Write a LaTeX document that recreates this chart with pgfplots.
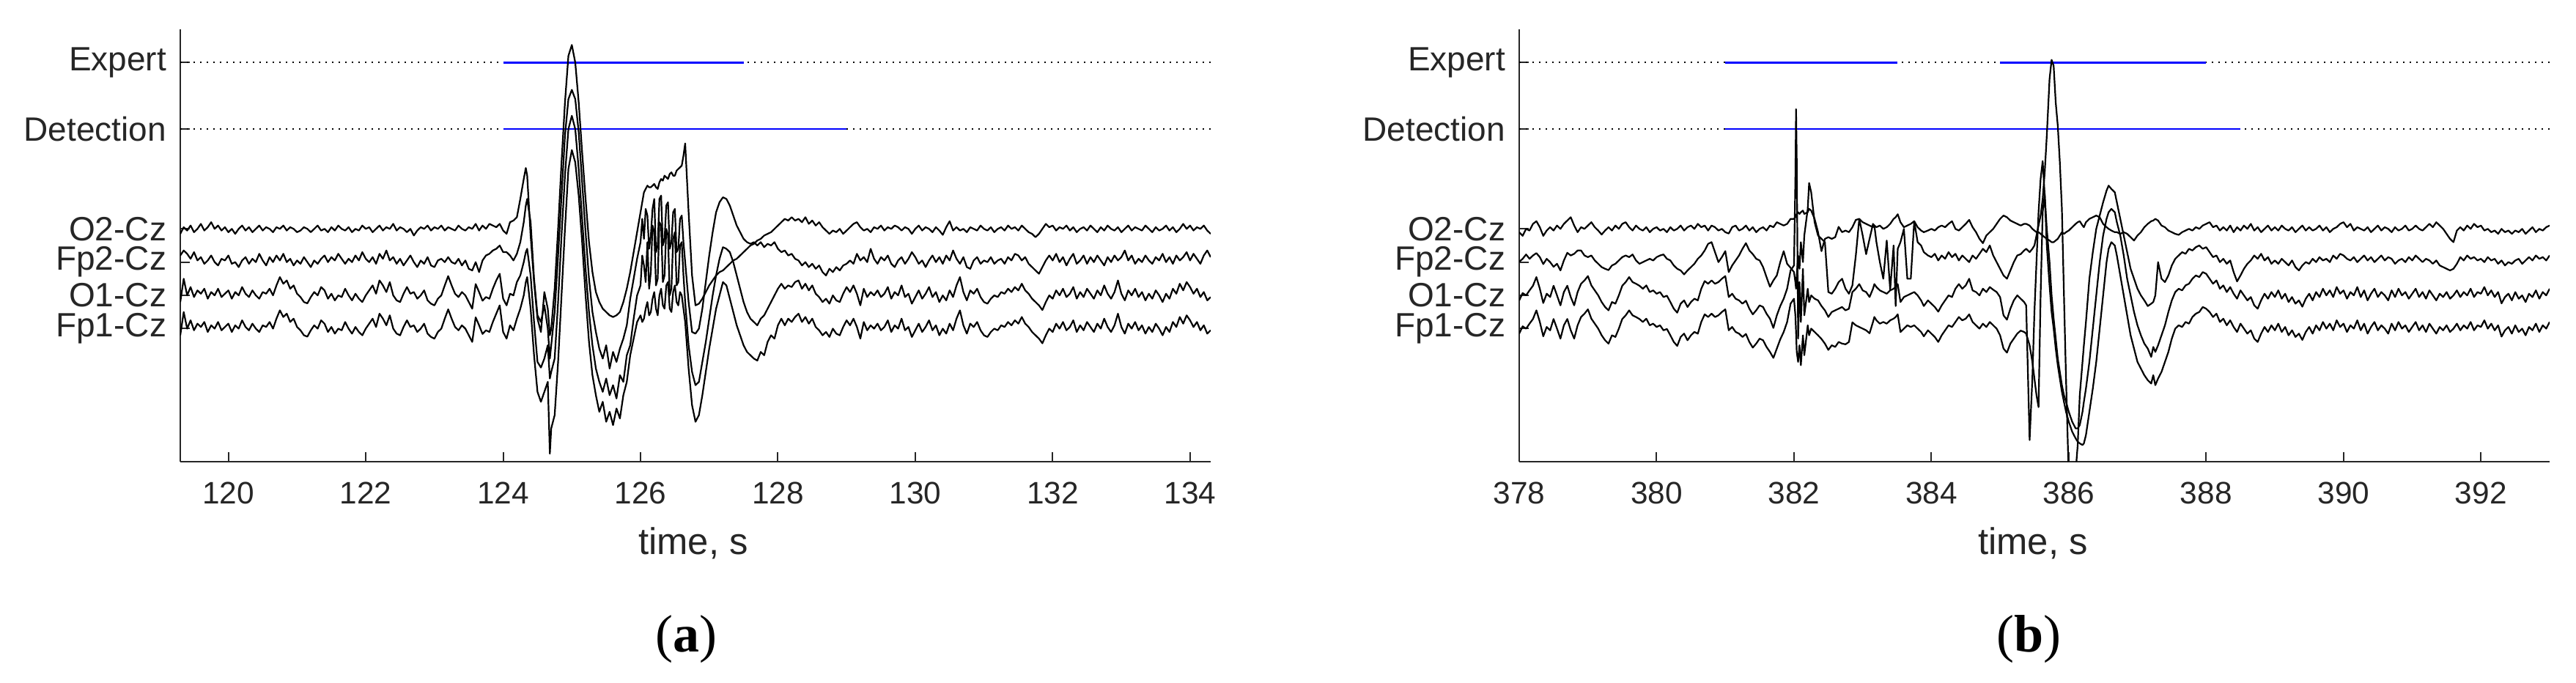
\documentclass[border=0pt]{standalone}
\usepackage{fontspec}
\setmainfont{Liberation Sans}
\newfontfamily\seriffont{Liberation Serif}
\usepackage{pgfplots}
\usepackage{pgfplotstable}
\pgfplotsset{compat=1.18}
\definecolor{axgray}{RGB}{38,38,38}

% panel (a): t, Fp1-Cz, O1-Cz, Fp2-Cz, O2-Cz (channel offsets 1,2,3,4)
\pgfplotstableread{
t fpa oa fpb ob
119.30 0.80 1.80 3.20 3.85
119.35 1.50 2.50 3.35 4.05
119.40 1.00 2.00 3.25 3.95
119.45 1.25 2.25 3.10 4.10
119.50 0.95 1.95 3.30 3.90
119.55 1.15 2.15 3.05 4.00
119.60 1.05 2.05 3.15 4.15
119.65 1.20 2.20 2.95 3.95
119.70 0.90 1.90 3.05 4.05
119.75 1.10 2.10 3.20 4.20
119.80 1.00 2.00 3.00 4.00
119.85 1.20 2.20 2.90 4.10
119.90 0.95 1.95 3.10 3.95
119.95 1.05 2.05 3.05 4.05
120.00 1.15 2.15 3.20 3.90
120.05 0.90 1.90 2.95 4.00
120.10 1.10 2.10 3.00 3.85
120.15 1.00 2.00 2.85 4.00
120.20 1.25 2.25 3.05 4.10
120.25 1.05 2.05 3.15 3.95
120.30 0.95 1.95 2.95 4.05
120.35 1.15 2.15 3.10 3.90
120.40 1.00 2.00 3.00 4.00
120.45 0.90 1.90 3.25 4.10
120.50 1.10 2.10 3.05 3.95
120.55 1.05 2.05 2.90 4.05
120.60 1.20 2.20 3.15 4.00
120.65 1.00 2.00 3.00 3.90
120.70 1.30 2.30 3.20 4.05
120.75 1.55 2.55 3.05 4.00
120.80 1.35 2.35 3.25 4.10
120.85 1.45 2.45 3.00 3.95
120.90 1.20 2.20 3.10 4.05
120.95 1.30 2.30 2.90 4.00
121.00 1.05 2.05 3.05 3.90
121.05 0.95 1.95 2.95 3.95
121.10 0.80 1.80 3.15 4.05
121.15 0.76 1.76 3.00 4.00
121.20 0.95 1.95 2.85 3.90
121.25 1.10 2.10 3.05 4.00
121.30 1.00 2.00 2.95 4.10
121.35 1.25 2.25 3.10 3.95
121.40 1.15 2.15 3.20 4.00
121.45 0.90 1.90 3.00 3.90
121.50 1.05 2.05 3.15 4.05
121.55 0.85 1.85 3.05 3.95
121.60 1.00 2.00 3.25 4.10
121.65 0.95 1.95 3.10 4.00
121.70 1.20 2.20 2.95 3.95
121.75 1.00 2.00 3.10 4.05
121.80 0.85 1.85 3.00 3.90
121.85 1.05 2.05 3.20 4.00
121.90 0.90 1.90 3.05 3.95
121.95 0.80 1.80 3.30 4.10
122.00 1.00 2.00 3.10 4.00
122.05 1.15 2.15 3.00 4.05
122.10 1.30 2.30 3.15 3.90
122.15 1.05 2.05 2.95 4.00
122.20 1.45 2.45 3.25 4.10
122.25 1.30 2.30 3.10 3.95
122.30 1.10 2.10 3.35 4.05
122.35 1.40 2.40 3.05 4.00
122.40 1.00 2.00 3.15 4.15
122.45 0.85 1.85 2.95 3.95
122.50 0.80 1.80 3.10 4.05
122.55 1.05 2.05 2.90 4.00
122.60 1.25 2.25 3.05 3.90
122.65 1.05 2.05 3.20 4.00
122.70 1.10 2.10 3.00 3.80
122.75 0.90 1.90 2.85 3.95
122.80 1.00 2.00 3.05 4.05
122.85 1.15 2.15 2.95 4.00
122.90 0.85 1.85 3.15 4.10
122.95 0.75 1.75 2.90 3.95
123.00 0.70 1.70 2.85 4.05
123.05 0.90 1.90 3.05 4.00
123.10 1.00 2.00 3.10 4.10
123.15 1.30 2.30 3.00 3.95
123.20 1.58 2.58 3.15 4.05
123.25 1.30 2.30 3.00 4.00
123.30 1.05 2.05 2.95 3.95
123.35 0.95 1.95 3.10 4.10
123.40 1.10 2.10 2.90 4.00
123.45 1.00 2.00 3.05 3.95
123.50 0.80 1.80 2.80 4.05
123.55 0.60 1.60 2.75 4.00
123.60 1.34 2.34 3.00 4.15
123.65 1.10 2.10 2.70 3.95
123.70 0.84 1.84 3.05 4.10
123.75 0.95 1.95 3.20 4.00
123.80 0.90 1.90 3.25 4.15
123.85 1.20 2.20 3.35 4.10
123.90 1.45 2.45 3.40 4.05
123.95 1.70 2.65 3.50 4.15
124.00 0.90 1.90 3.30 3.95
124.05 0.70 1.70 3.30 3.85
124.10 1.10 2.05 3.20 4.20
124.15 0.95 2.00 3.05 4.25
124.20 1.30 2.40 3.25 4.35
124.25 1.60 2.60 3.60 4.90
124.30 2.00 3.00 4.20 5.50
124.33 2.40 3.30 4.70 5.83
124.35 2.55 3.40 4.90 5.60
124.40 1.60 2.60 4.20 3.80
124.45 0.20 1.20 2.50 2.40
124.50 -0.90 0.00 1.40 1.30
124.55 -1.20 -0.17 1.20 0.90
124.60 -0.90 0.10 1.70 2.10
124.65 -0.60 0.50 1.00 1.60
124.68 -2.76 -0.50 0.10 0.80
124.70 -2.00 -0.30 0.50 1.00
124.75 -1.60 0.10 1.50 2.20
124.80 0.00 1.80 3.20 4.00
124.85 2.00 3.80 5.00 6.00
124.90 4.00 5.60 6.80 7.80
124.95 5.80 7.00 7.90 9.20
125.00 6.37 7.40 8.18 9.53
125.05 6.00 7.00 7.90 9.00
125.10 5.00 5.80 6.90 7.80
125.15 3.60 4.30 5.40 6.30
125.20 2.00 2.80 3.90 4.90
125.25 0.60 1.50 2.50 3.60
125.30 -0.40 0.50 1.50 2.70
125.35 -1.00 -0.20 0.90 2.10
125.40 -1.50 -0.60 0.40 1.80
125.45 -1.20 -0.90 0.10 1.60
125.50 -1.80 -0.50 0.50 1.50
125.55 -1.50 -1.00 -0.20 1.40
125.60 -1.90 -0.70 0.30 1.35
125.65 -1.40 -1.10 0.00 1.40
125.70 -1.70 -0.40 0.40 1.50
125.75 -1.00 -0.60 0.70 1.80
125.80 -0.60 0.20 1.10 2.20
125.85 0.20 0.50 1.90 2.70
125.90 0.70 1.30 2.50 3.30
125.95 1.20 2.00 3.10 3.90
126.000 1.40 2.30 3.60 4.50
126.025 1.20 3.20 4.30 4.80
126.050 1.30 2.90 3.70 5.10
126.075 1.60 2.40 4.60 5.20
126.100 1.80 3.60 4.40 5.30
126.125 1.40 2.20 3.40 5.25
126.150 1.50 2.70 3.80 5.25
126.175 1.90 4.10 4.60 5.30
126.200 2.10 3.90 4.90 5.35
126.225 1.60 2.30 3.30 5.25
126.250 1.40 2.50 3.50 5.20
126.275 2.00 4.20 4.90 5.40
126.300 2.20 4.10 5.00 5.50
126.325 1.70 2.40 3.50 5.45
126.350 1.60 2.60 3.70 5.60
126.375 2.30 4.00 4.70 5.55
126.400 2.40 3.80 4.80 5.50
126.425 1.60 2.00 3.40 5.65
126.450 1.50 2.20 3.60 5.70
126.475 2.10 3.70 4.50 5.60
126.500 2.30 3.90 4.60 5.60
126.525 1.80 2.30 3.30 5.75
126.550 1.70 2.40 3.40 5.80
126.575 2.10 3.50 4.30 5.85
126.600 2.00 3.60 4.40 5.90
126.625 1.60 2.60 3.60 6.20
126.650 1.20 1.80 3.00 6.57
126.70 -0.20 0.50 1.80 4.50
126.75 -1.30 -0.30 0.90 2.60
126.80 -1.80 -0.70 0.85 1.70
126.85 -1.60 -0.60 1.00 1.75
126.90 -1.00 0.00 1.60 1.90
126.95 -0.30 0.60 2.40 2.10
127.00 0.40 1.30 3.20 2.30
127.05 1.00 2.00 3.90 2.45
127.10 1.60 2.60 4.50 2.60
127.15 2.00 3.10 4.80 2.70
127.20 2.40 3.45 4.95 2.75
127.25 2.30 3.40 4.90 2.85
127.30 1.90 3.30 4.70 2.95
127.35 1.50 3.00 4.40 3.05
127.40 1.10 2.60 4.10 3.10
127.45 0.80 2.20 3.90 3.20
127.50 0.50 1.80 3.70 3.30
127.55 0.30 1.50 3.60 3.40
127.60 0.20 1.30 3.55 3.50
127.65 0.10 1.20 3.60 3.55
127.70 0.04 1.10 3.50 3.65
127.75 0.30 1.30 3.60 3.70
127.80 0.20 1.40 3.45 3.80
127.85 0.60 1.60 3.55 3.85
127.90 0.80 1.80 3.50 3.90
127.95 0.70 2.00 3.60 4.00
128.00 1.10 2.20 3.40 4.10
128.05 1.30 2.35 3.30 4.20
128.10 1.10 2.20 3.35 4.30
128.15 1.30 2.30 3.20 4.25
128.20 1.20 2.25 3.25 4.35
128.25 1.35 2.40 3.10 4.25
128.30 1.45 2.45 3.05 4.30
128.35 1.20 2.20 2.90 4.20
128.40 1.35 2.35 3.00 4.35
128.45 1.15 2.15 2.85 4.15
128.50 1.30 2.30 2.95 4.25
128.55 1.05 2.05 2.80 4.10
128.60 0.95 1.95 2.90 4.20
128.65 0.80 1.80 2.70 4.05
128.70 0.90 1.90 2.60 3.95
128.75 0.75 1.75 2.80 3.85
128.80 1.00 2.00 2.70 3.95
128.85 0.85 1.85 2.85 3.90
128.90 0.80 1.80 2.75 4.00
128.95 1.05 2.05 2.90 3.85
129.00 1.25 2.25 2.95 3.95
129.05 1.10 2.10 3.05 4.05
129.10 1.30 2.30 2.95 4.15
129.15 1.05 2.05 3.25 4.20
129.20 0.70 1.70 3.05 4.05
129.25 1.20 2.20 3.15 3.95
129.30 0.95 1.95 3.00 4.00
129.35 1.10 2.10 3.40 3.90
129.40 1.00 2.00 3.10 4.05
129.45 1.15 2.15 2.95 4.00
129.50 0.95 1.95 3.15 4.10
129.55 1.05 2.05 3.05 3.95
129.60 1.25 2.25 3.20 4.05
129.65 0.90 1.90 2.95 4.00
129.70 1.10 2.10 2.85 4.10
129.75 1.00 2.00 3.05 4.05
129.80 1.30 2.30 3.15 3.95
129.85 0.95 1.95 2.95 4.05
129.90 1.05 2.05 3.10 4.00
129.95 0.75 1.75 3.30 3.85
130.00 0.95 1.95 3.15 4.00
130.05 1.15 2.15 2.95 4.10
130.10 0.90 1.90 3.05 3.95
130.15 1.05 2.05 2.85 4.05
130.20 1.25 2.25 3.05 4.00
130.25 0.95 1.95 3.20 3.90
130.30 1.10 2.10 3.00 4.05
130.35 0.80 1.80 3.15 3.95
130.40 1.00 2.00 2.95 3.82
130.45 0.85 1.85 3.20 4.05
130.50 1.15 2.15 3.05 4.23
130.55 0.95 1.95 3.35 3.95
130.60 1.30 2.30 3.10 4.05
130.65 1.55 2.55 2.95 3.95
130.70 1.10 2.10 3.15 4.00
130.75 0.85 1.85 2.85 3.90
130.80 1.15 2.15 2.80 4.05
130.85 1.05 2.05 3.05 4.00
130.90 1.20 2.20 3.15 3.95
130.95 0.95 1.95 2.95 4.10
131.00 0.80 1.80 3.05 4.00
131.05 0.75 1.75 3.00 3.95
131.10 0.90 1.90 3.15 4.05
131.15 1.00 2.00 2.95 3.90
131.20 0.95 1.95 3.05 4.00
131.25 1.10 2.10 3.10 4.05
131.30 1.05 2.05 2.95 3.95
131.35 1.20 2.20 3.15 4.10
131.40 1.10 2.10 3.05 4.00
131.45 1.25 2.25 3.25 4.05
131.50 1.15 2.15 3.20 3.95
131.55 1.35 2.35 3.05 4.10
131.60 1.15 2.15 3.15 4.00
131.65 1.05 2.05 2.95 3.90
131.70 0.90 1.90 2.85 3.85
131.75 0.80 1.80 2.75 3.75
131.80 0.70 1.70 2.65 3.85
131.85 0.56 1.56 2.85 4.00
131.90 0.80 1.80 3.05 4.15
131.95 1.00 2.00 3.20 4.05
132.00 0.90 1.90 3.05 4.10
132.05 1.15 2.15 3.25 3.95
132.10 1.00 2.00 3.00 4.05
132.15 1.20 2.20 3.15 4.00
132.20 0.95 1.95 2.90 4.10
132.25 1.05 2.05 3.10 3.95
132.30 1.25 2.25 3.25 4.05
132.35 0.90 1.90 2.95 3.90
132.40 1.10 2.10 3.05 4.00
132.45 0.95 1.95 3.20 4.05
132.50 1.20 2.20 2.95 3.95
132.55 1.05 2.05 3.15 4.10
132.60 0.90 1.90 3.00 4.00
132.65 1.15 2.15 3.20 3.90
132.70 1.00 2.00 3.05 4.05
132.75 1.30 2.30 2.90 3.95
132.80 1.05 2.05 3.15 4.10
132.85 0.90 1.90 3.00 4.00
132.90 1.10 2.10 3.20 3.95
132.95 1.45 2.45 3.05 4.05
133.00 1.05 2.05 3.15 3.90
133.05 0.85 1.85 3.35 4.00
133.10 1.15 2.15 3.05 4.10
133.15 1.00 2.00 3.20 3.95
133.20 1.20 2.20 2.95 4.05
133.25 0.95 1.95 3.10 4.00
133.30 1.10 2.10 3.00 3.95
133.35 0.85 1.85 3.20 4.10
133.40 1.05 2.05 3.05 4.00
133.45 0.90 1.90 2.95 3.90
133.50 1.15 2.15 3.15 4.05
133.55 1.00 2.00 3.05 3.95
133.60 0.80 1.80 3.25 4.00
133.65 1.05 2.05 3.00 4.10
133.70 0.90 1.90 3.15 3.95
133.75 1.20 2.20 2.95 4.05
133.80 1.05 2.05 3.20 3.90
133.85 1.35 2.35 3.05 4.00
133.90 1.15 2.15 3.15 4.15
133.95 1.40 2.40 3.30 4.00
134.00 1.25 2.25 3.05 4.10
134.05 1.05 2.05 3.25 3.95
134.10 1.20 2.20 3.10 4.05
134.15 0.95 1.95 2.95 4.00
134.20 1.10 2.10 3.20 4.10
134.25 0.85 1.85 3.35 3.95
134.30 0.95 1.95 3.15 3.85
}\dataA

% panel (b)
\pgfplotstableread{
t fpa oa fpb ob
378.00 0.85 1.85 3.01 3.90
378.05 1.07 2.07 3.10 3.79
378.10 1.00 2.00 3.23 4.00
378.15 1.15 2.15 3.10 3.95
378.20 1.29 2.29 3.20 4.15
378.25 1.55 2.55 3.27 4.23
378.30 1.20 2.20 3.15 4.05
378.35 0.77 1.77 2.94 3.79
378.40 1.05 2.05 3.10 3.95
378.45 0.95 1.95 3.00 4.05
378.50 1.29 2.29 2.86 3.95
378.55 1.00 2.00 2.95 4.10
378.60 0.70 1.70 2.75 4.00
378.65 1.10 2.10 3.05 4.15
378.70 1.29 2.29 3.28 4.25
378.75 0.95 1.95 3.20 4.35
378.80 0.70 1.70 3.25 4.10
378.85 1.10 2.10 3.35 3.90
378.90 1.35 2.35 3.35 4.05
378.95 1.45 2.45 3.20 4.00
379.00 1.58 2.58 3.15 4.10
379.05 1.30 2.30 3.20 4.20
379.10 1.15 2.15 3.05 4.05
379.15 1.00 2.00 2.95 3.95
379.20 0.80 1.80 2.85 3.83
379.25 0.65 1.65 2.80 3.95
379.30 0.55 1.55 2.76 4.05
379.35 0.80 1.80 2.90 3.95
379.40 0.75 1.75 2.95 4.10
379.45 1.00 2.00 3.05 4.00
379.50 1.29 2.29 3.15 4.15
379.55 1.40 2.40 3.20 4.20
379.60 1.55 2.55 3.15 4.05
379.65 1.40 2.40 3.23 3.95
379.70 1.35 2.35 3.05 4.10
379.75 1.29 2.29 2.95 4.00
379.80 1.20 2.20 3.00 3.95
379.85 1.30 2.30 3.05 4.05
379.90 1.10 2.10 3.10 3.90
379.95 1.15 2.15 3.05 4.00
380.00 1.05 2.05 3.15 4.05
380.05 1.10 2.10 3.20 3.95
380.10 0.95 1.95 3.23 4.00
380.15 0.99 1.99 3.10 3.90
380.20 0.80 1.80 3.05 4.05
380.25 0.60 1.60 2.90 3.95
380.30 0.48 1.48 2.80 4.00
380.35 0.75 1.75 2.75 4.10
380.40 0.85 1.85 2.63 3.95
380.45 0.65 1.65 2.75 4.05
380.50 0.80 1.80 2.85 4.10
380.55 0.90 1.90 2.95 4.00
380.60 0.85 1.85 3.10 4.15
380.65 1.20 2.20 3.20 4.05
380.70 1.43 2.43 3.35 4.10
380.75 1.35 2.35 3.55 3.95
380.80 1.45 2.45 3.60 4.10
380.85 1.35 2.35 3.30 4.05
380.90 1.40 2.40 3.00 3.95
380.95 1.50 2.50 3.15 4.00
381.00 1.58 2.58 3.33 3.90
381.05 0.95 1.95 2.70 3.86
381.10 1.05 2.05 2.90 4.05
381.15 0.90 1.90 3.05 4.10
381.20 0.85 1.85 3.20 3.95
381.25 0.75 1.75 3.40 4.00
381.30 0.84 1.84 3.57 4.10
381.35 0.60 1.60 3.35 3.95
381.40 0.43 1.43 3.24 4.05
381.45 0.55 1.55 3.10 3.90
381.50 0.70 1.70 3.05 4.00
381.55 0.65 1.65 2.85 4.05
381.60 0.45 1.45 2.55 3.95
381.65 0.30 1.30 2.26 4.10
381.70 0.12 1.02 2.45 4.05
381.75 0.40 1.40 2.60 4.20
381.80 0.68 1.68 3.00 4.15
381.85 0.90 1.90 3.33 4.10
381.90 1.20 2.20 2.95 4.15
381.95 1.75 2.75 2.83 4.30
382.00 1.90 2.90 2.70 4.30
382.02 1.40 5.50 2.40 4.35
382.03 0.90 7.60 2.20 4.40
382.04 0.30 6.04 2.60 4.45
382.06 0.00 0.70 3.20 4.50
382.08 0.50 2.40 2.80 4.45
382.10 -0.10 1.20 3.60 4.50
382.13 0.80 2.80 3.00 4.55
382.15 0.20 1.40 3.80 4.45
382.20 1.10 2.20 4.60 4.50
382.22 0.80 1.80 5.38 4.60
382.25 1.00 2.00 5.10 4.55
382.30 0.90 1.90 4.20 4.30
382.35 0.80 1.85 3.80 3.90
382.40 0.69 1.68 3.70 3.33
382.45 0.55 1.55 3.60 3.70
382.50 0.36 1.35 2.10 3.75
382.55 0.50 1.50 2.05 3.70
382.60 0.45 1.55 2.20 3.75
382.65 0.60 1.60 2.40 4.06
382.70 0.55 1.65 2.50 3.90
382.75 0.53 1.55 2.20 3.95
382.80 0.60 1.60 2.05 3.90
382.85 1.19 2.10 2.30 4.05
382.90 1.10 2.20 3.20 4.27
382.95 1.05 2.34 4.30 4.30
383.00 1.00 2.15 3.80 4.20
383.05 0.95 2.10 3.24 4.15
383.10 0.86 1.95 3.70 4.10
383.15 1.20 2.20 4.15 4.05
383.17 1.35 2.34 4.10 4.10
383.20 1.25 2.25 3.60 4.05
383.25 1.15 2.15 3.00 4.10
383.30 1.20 2.10 2.50 4.00
383.35 1.15 2.05 3.65 4.05
383.40 1.25 2.15 2.17 4.15
383.45 1.30 2.20 3.50 4.30
383.48 1.35 2.25 1.68 4.35
383.51 1.43 2.34 3.40 4.44
383.55 0.90 1.80 3.60 4.20
383.60 1.00 1.95 4.00 4.05
383.65 1.10 2.00 2.50 4.10
383.70 1.05 2.05 2.50 4.15
383.75 1.10 2.10 4.23 4.23
383.80 1.00 2.00 3.60 4.05
383.85 0.90 1.85 3.50 3.95
383.89 0.77 1.68 3.30 3.90
383.95 0.95 1.85 3.20 3.95
384.00 0.85 1.75 3.15 4.00
384.05 0.75 1.65 3.25 3.95
384.10 0.60 1.51 3.05 4.05
384.15 0.80 1.70 3.20 4.10
384.20 0.95 1.85 3.10 4.05
384.25 1.10 2.00 3.30 4.15
384.30 1.05 1.95 3.15 4.23
384.35 1.20 2.20 3.25 4.00
384.40 1.35 2.34 3.05 3.95
384.45 1.25 2.20 3.20 4.05
384.50 1.30 2.30 3.10 4.15
384.55 1.43 2.50 3.00 4.27
384.60 1.20 2.15 3.20 4.05
384.65 1.10 2.10 3.10 3.90
384.70 1.00 2.00 3.25 3.70
384.75 1.15 2.20 3.40 3.57
384.80 1.05 2.10 3.30 3.80
384.85 1.20 2.25 3.50 3.90
384.90 1.10 2.17 3.20 4.00
384.95 1.00 2.10 3.00 4.15
385.00 0.80 1.95 2.80 4.30
385.05 0.40 1.40 2.60 4.40
385.10 0.28 1.27 2.50 4.35
385.15 0.55 1.60 2.75 4.25
385.20 0.70 1.85 3.00 4.20
385.25 0.85 2.00 3.20 4.15
385.30 0.94 1.90 3.24 4.10
385.35 0.90 1.80 3.35 4.15
385.38 0.85 1.70 3.40 4.15
385.43 0.50 -2.35 3.30 4.10
385.47 0.00 -0.50 3.40 4.00
385.50 -0.50 1.50 3.50 3.95
385.53 -1.00 3.00 3.80 3.90
385.56 -1.36 4.50 4.10 3.90
385.59 2.00 5.50 4.40 3.85
385.62 4.50 6.04 4.90 3.80
385.65 5.05 5.00 5.70 3.75
385.68 3.50 4.00 6.80 3.70
385.72 2.30 3.00 8.50 3.65
385.75 1.50 2.00 9.08 3.60
385.78 1.00 1.30 8.90 3.60
385.81 0.40 0.70 7.80 3.65
385.84 -0.10 0.10 7.10 3.70
385.87 -0.50 -0.30 6.00 3.80
385.90 -0.90 -0.70 4.60 3.90
385.93 -1.20 -1.00 2.00 3.85
385.96 -1.50 -1.20 -0.50 3.90
386.00 -1.80 -1.50 -3.50 3.95
386.05 -2.10 -1.80 -4.00 4.05
386.10 -2.30 -2.00 -3.30 4.15
386.13 -2.40 -2.00 -2.50 4.20
386.16 -2.45 -1.90 -1.00 4.23
386.20 -2.50 -1.50 0.00 4.10
386.22 -2.45 -1.20 0.50 4.05
386.25 -2.20 -0.80 1.20 4.20
386.30 -1.50 0.00 2.50 4.30
386.35 -0.80 1.00 3.30 4.35
386.40 0.00 2.00 4.00 4.40
386.45 1.00 3.00 4.40 4.35
386.50 2.00 3.80 4.80 4.15
386.55 3.00 4.30 5.15 4.05
386.58 3.40 4.50 5.30 4.00
386.62 3.60 4.60 5.20 3.95
386.67 3.50 4.50 5.10 3.90
386.70 3.20 4.20 4.80 3.90
386.75 2.60 3.80 4.30 3.85
386.80 2.00 3.20 3.80 3.90
386.85 1.40 2.50 3.30 3.85
386.90 0.80 2.00 2.80 3.75
386.95 0.40 1.50 2.50 3.65
387.00 0.00 1.10 2.20 3.80
387.05 -0.20 0.80 2.00 3.90
387.10 -0.40 0.55 1.85 4.05
387.15 -0.55 0.40 1.68 4.15
387.20 -0.65 0.15 1.75 4.23
387.23 -0.40 0.45 1.80 4.25
387.26 -0.70 0.30 2.00 4.30
387.30 -0.50 0.50 3.00 4.25
387.35 -0.30 0.80 2.50 4.10
387.40 0.00 1.10 2.40 4.05
387.45 0.30 1.50 2.60 3.95
387.50 0.70 1.85 2.90 3.90
387.55 1.00 2.10 3.10 3.85
387.60 1.10 2.20 3.20 3.82
387.65 1.05 2.15 3.30 3.90
387.70 1.20 2.30 3.25 3.95
387.75 1.15 2.35 3.40 4.00
387.80 1.35 2.50 3.35 3.95
387.85 1.45 2.60 3.45 4.05
387.90 1.50 2.55 3.50 4.00
387.95 1.65 2.70 3.40 4.10
388.00 1.60 2.65 3.45 4.15
388.05 1.50 2.50 3.30 4.20
388.10 1.35 2.35 3.15 4.05
388.15 1.45 2.45 3.20 4.10
388.20 1.20 2.20 3.00 3.95
388.25 1.30 2.30 3.10 4.05
388.30 1.10 2.10 2.95 3.95
388.35 1.25 2.25 3.05 4.10
388.40 1.05 2.05 2.70 3.90
388.45 0.90 1.90 2.42 4.05
388.50 1.15 2.15 2.60 3.95
388.55 1.00 2.00 2.80 4.10
388.60 0.85 1.85 2.95 4.00
388.65 0.95 1.95 3.05 4.15
388.70 0.70 1.70 3.20 3.95
388.75 0.60 1.60 3.10 4.05
388.80 0.85 1.85 3.25 3.90
388.85 1.05 2.05 3.05 4.00
388.90 0.90 1.90 3.15 4.10
388.95 1.10 2.10 2.95 3.95
389.00 0.95 1.95 3.05 4.05
389.05 1.15 2.15 2.95 3.95
389.10 0.90 1.90 3.10 4.10
389.15 1.05 2.05 3.00 4.00
389.20 0.80 1.80 2.90 3.95
389.25 0.95 1.95 3.05 4.05
389.30 0.75 1.75 2.85 3.90
389.35 0.85 1.85 2.75 4.00
389.40 0.66 1.66 2.90 4.10
389.45 0.90 1.90 3.00 3.95
389.50 1.05 2.05 2.95 4.05
389.55 0.85 1.85 3.10 3.95
389.60 1.10 2.10 3.00 4.00
389.65 0.95 1.95 3.15 4.10
389.70 1.20 2.20 3.05 3.95
389.75 1.00 2.00 3.10 4.05
389.80 1.15 2.15 3.00 3.90
389.85 0.95 1.95 3.20 4.00
389.90 1.25 2.25 3.10 4.05
389.95 1.05 2.05 3.25 4.15
390.00 1.15 2.15 3.20 4.20
390.05 0.90 1.90 3.10 4.05
390.10 1.10 2.10 3.05 4.15
390.15 1.00 2.00 3.15 3.95
390.20 1.25 2.25 3.00 4.05
390.25 0.95 1.95 3.10 4.00
390.30 1.15 2.15 3.20 3.95
390.35 0.85 1.85 3.05 4.05
390.40 1.05 2.05 3.15 3.90
390.45 1.20 2.20 3.00 4.00
390.50 0.95 1.95 3.10 4.10
390.55 1.10 2.10 3.20 3.95
390.60 1.00 2.00 3.05 4.05
390.65 0.85 1.85 3.15 4.00
390.70 1.15 2.15 3.10 3.90
390.75 0.95 1.95 2.95 4.05
390.80 1.20 2.20 3.05 3.95
390.85 1.00 2.00 3.10 4.00
390.90 1.10 2.10 3.00 4.10
390.95 0.90 1.90 3.15 3.95
391.00 1.05 2.05 3.05 4.00
391.05 1.20 2.20 3.20 4.10
391.10 0.95 1.95 3.10 4.00
391.15 1.10 2.10 3.00 3.95
391.20 0.90 1.90 3.10 4.05
391.25 1.15 2.15 3.05 4.15
391.30 1.00 2.00 2.95 4.05
391.35 0.85 1.85 3.05 4.20
391.40 1.05 2.05 2.90 4.10
391.45 0.95 1.95 2.85 4.00
391.50 1.10 2.10 2.80 3.85
391.55 0.90 1.90 2.75 3.70
391.60 1.00 2.00 2.80 3.60
391.65 1.15 2.15 2.95 3.95
391.70 0.95 1.95 3.15 4.05
391.75 1.10 2.10 3.05 3.95
391.80 1.00 2.00 3.20 4.10
391.85 1.20 2.20 3.10 4.00
391.90 0.95 1.95 3.15 4.15
391.95 1.10 2.10 3.05 4.05
392.00 1.05 2.05 3.10 4.10
392.05 1.25 2.25 3.00 3.95
392.10 1.00 2.00 3.15 4.00
392.15 1.15 2.15 3.05 3.90
392.20 0.95 1.95 3.10 3.95
392.25 1.10 2.10 2.95 3.85
392.30 0.76 1.76 3.05 4.00
392.35 0.95 1.95 2.90 3.90
392.40 1.05 2.05 3.00 3.95
392.45 0.85 1.85 2.95 3.85
392.50 1.10 2.10 3.05 3.95
392.55 0.90 1.90 3.10 3.90
392.60 1.00 2.00 2.95 4.00
392.65 0.80 1.80 3.05 3.85
392.70 1.05 2.05 3.15 3.95
392.75 0.95 1.95 3.05 4.05
392.80 1.15 2.15 3.20 3.90
392.85 0.90 1.90 3.10 4.00
392.90 1.10 2.10 3.15 3.95
392.95 1.00 2.00 3.05 4.05
393.00 1.20 2.20 3.20 4.10
}\dataB

\pgfplotsset{
  eegaxis/.style={
    scale only axis, width=351.5pt, height=147.5pt,
    anchor=south west,
    ymin=-3, ymax=10,
    axis x line*=bottom, axis y line*=left,
    axis line style={axgray, line width=0.6pt},
    every tick/.style={axgray, line width=0.5pt},
    tick align=inside, major tick length=3.3pt,
    ytick={1,2,3,4,7,9},
    yticklabels={Fp1-Cz,O1-Cz,Fp2-Cz,O2-Cz,Detection,Expert},
    yticklabel style={font=\fontsize{11.5}{12}\selectfont, text=axgray, xshift=-1.2pt},
    xticklabel style={font=\fontsize{10.6}{12}\selectfont, text=axgray, yshift=-3.5pt},
    /pgf/number format/assume math mode=true,
    /pgf/number format/1000 sep={},
    clip=true,
  },
  trace/.style={black, line width=0.55pt, line join=round},
  refline/.style={black, line width=0.5pt, dash pattern=on 0.5pt off 1.75pt},
  mark/.style={blue, line width=0.65pt},
}

\begin{document}
\begin{tikzpicture}
\path[use as bounding box] (0,0) rectangle (878.75pt,233pt);

\begin{axis}[eegaxis, at={(61.5pt,75.5pt)},
  xmin=119.3, xmax=134.3, xtick={120,122,...,134}]
\addplot[refline] coordinates {(119.3,9) (134.3,9)};
\addplot[refline] coordinates {(119.3,7) (134.3,7)};
\addplot[mark] coordinates {(124,9) (127.5,9)};
\addplot[mark] coordinates {(124,7) (129,7)};
\addplot[trace] table[x=t, y=fpa] {\dataA};
\addplot[trace] table[x=t, y=oa] {\dataA};
\addplot[trace] table[x=t, y=fpb] {\dataA};
\addplot[trace] table[x=t, y=ob] {\dataA};
\end{axis}

\begin{axis}[eegaxis, at={(518.25pt,75.5pt)},
  xmin=378, xmax=393, xtick={378,380,...,392}]
\addplot[refline] coordinates {(378,9) (393,9)};
\addplot[refline] coordinates {(378,7) (393,7)};
\addplot[mark] coordinates {(381,9) (383.5,9)};
\addplot[mark] coordinates {(385,9) (388,9)};
\addplot[mark] coordinates {(381,7) (388.5,7)};
\addplot[trace] table[x=t, y=fpa] {\dataB};
\addplot[trace] table[x=t, y=oa] {\dataB};
\addplot[trace] table[x=t, y=fpb] {\dataB};
\addplot[trace] table[x=t, y=ob] {\dataB};
\end{axis}

\node[anchor=base, font=\fontsize{12.7}{14}\selectfont, text=axgray] at (236.5pt,43.8pt) {time, s};
\node[anchor=base, font=\fontsize{12.7}{14}\selectfont, text=axgray] at (693.5pt,43.8pt) {time, s};
\node[anchor=base, font=\fontsize{18}{20}\selectfont] at (234pt,10.5pt) {\seriffont(\textbf{a})};
\node[anchor=base, font=\fontsize{18}{20}\selectfont] at (692pt,10.5pt) {\seriffont(\textbf{b})};
\end{tikzpicture}
\end{document}
